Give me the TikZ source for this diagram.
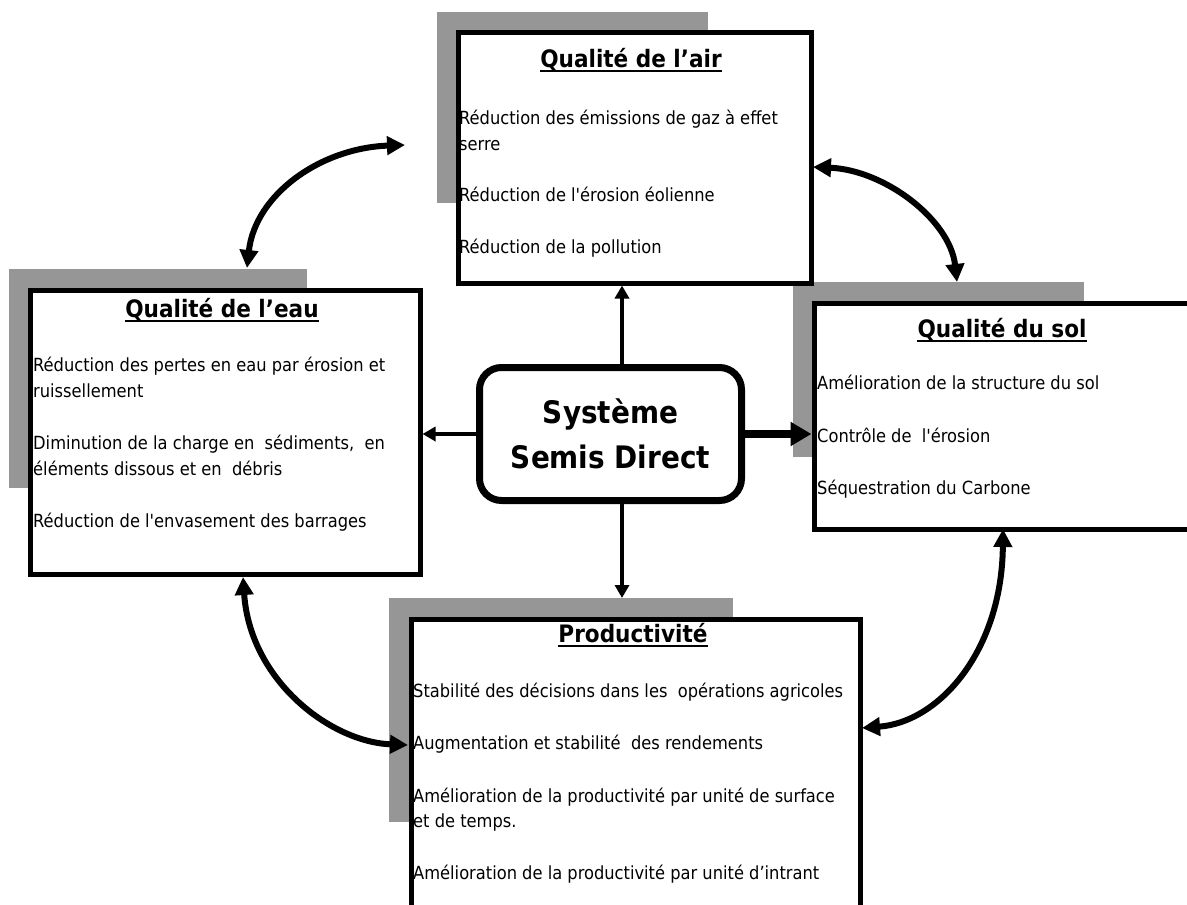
\documentclass[tikz,border=0pt]{standalone}
\usepackage{fontspec}
\setmainfont{DejaVu Sans Condensed}
\usetikzlibrary{arrows.meta}
\definecolor{shade}{RGB}{150,150,150}
\newcommand{\q}{\textquotesingle}
\begin{document}
\begin{tikzpicture}[x=1pt,y=-1pt,
  shadowbox/.style={fill=shade, draw=none, inner sep=0pt, outer sep=0pt, anchor=north west},
  mainbox/.style={draw=black, line width=5pt, fill=white, inner sep=0pt, anchor=north west},
  body/.style={anchor=base west, inner sep=0pt, font=\fontsize{18.1}{27}\selectfont},
  ttl/.style={anchor=base, inner sep=0pt, font=\fontsize{24}{28}\selectfont\bfseries},
  uline/.style={line width=2pt},
  thinarrow/.style={line width=4pt, -{Triangle[length=13pt,width=14pt]}},
  boldarrow/.style={line width=8pt, -{Triangle[length=21pt,width=23pt]}},
  curv/.style={line width=6pt, {Triangle[length=18pt,width=18pt]}-{Triangle[length=18pt,width=18pt]}},
  centre/.style={draw=black, line width=7pt, rounded corners=22pt, fill=white, align=center,
    font=\fontsize{31}{45}\selectfont\bfseries, minimum width=262pt, minimum height=133pt}
]
\useasboundingbox (0,0) rectangle (1187,905);

% shadows
\node[shadowbox, minimum width=271pt, minimum height=191pt] (airsh) at (437,12) {};
\node[shadowbox, minimum width=298pt, minimum height=219pt] (watersh) at (9,269) {};
\node[shadowbox, minimum width=291pt, minimum height=175pt] (solsh) at (793,282) {};
\node[shadowbox, minimum width=344pt, minimum height=224pt] (prodsh) at (389,598) {};

% boxes
\node[mainbox, minimum width=353pt, minimum height=251pt] (air) at (455.5,29.5) {};
\node[mainbox, minimum width=390pt, minimum height=284pt] (water) at (27.5,287.5) {};
\node[mainbox, minimum width=381pt, minimum height=226pt] (sol) at (811.5,300.5) {};
\node[mainbox, minimum width=449pt, minimum height=340pt] (prod) at (408.5,616.5) {};

% centre
\node[centre] (ctr) at (610.5,434) {Système\\Semis Direct};

% titles
\node[ttl] (tair) at (631,67) {Qualité de l’air};
\node[ttl] (twater) at (222,317) {Qualité de l’eau};
\node[ttl] (tsol) at (1002,337) {Qualité du sol};
\node[ttl] (tprod) at (633,642) {Productivité};
\foreach \t in {tair,twater,tsol,tprod}
  \draw[uline] ([yshift=-3.5pt]\t.base west) -- ([yshift=-3.5pt]\t.base east);

% air text
\node[body] (a1) at (459,124) {Réduction des émissions de gaz à effet};
\node[body] (a2) at (459,150) {serre};
\node[body] (a3) at (459,201) {Réduction de l\q érosion éolienne};
\node[body] (a4) at (459,253) {Réduction de la pollution};

% water text
\node[body] (w1) at (33,371) {Réduction des pertes en eau par érosion et};
\node[body] (w2) at (33,397) {ruissellement};
\node[body] (w3) at (33,449) {Diminution de la charge en \ sédiments, \ en};
\node[body] (w4) at (33,475) {éléments dissous et en \ débris};
\node[body] (w5) at (33,527) {Réduction de l\q envasement des barrages};

% sol text
\node[body] (s1) at (817,389) {Amélioration de la structure du sol};
\node[body] (s2) at (817,442) {Contrôle de \ l\q érosion};
\node[body] (s3) at (817,494) {Séquestration du Carbone};

% prod text
\node[body] (p1) at (413,697) {Stabilité des décisions dans les \ opérations agricoles};
\node[body] (p2) at (413,749) {Augmentation et stabilité \ des rendements};
\node[body] (p3) at (413,802) {Amélioration de la productivité par unité de surface};
\node[body] (p4) at (413,827) {et de temps.};
\node[body] (p5) at (413,879) {Amélioration de la productivité par unité d’intrant};

% straight arrows
\draw[thinarrow] ([xshift=11.5pt]ctr.north) -- ([xshift=11.5pt]ctr.north |- air.south);
\draw[thinarrow] ([xshift=11.5pt]ctr.south) -- ([xshift=11.5pt]ctr.south |- prodsh.north);
\draw[thinarrow] (ctr.west) -- (ctr.west -| water.east);
\draw[boldarrow] (ctr.east) -- (ctr.east -| sol.west);

% curved arrows
\coordinate (c1a) at (247,268);
\coordinate (c1b) at (405,145);
\coordinate (c2a) at (813,167);
\coordinate (c2b) at (957,282);
\coordinate (c3a) at (243,577);
\coordinate (c3b) at (408,745);
\coordinate (c4a) at (1003,529);
\coordinate (c4b) at (862,728);
\draw[curv] (c1a) .. controls (255,195) and (320,148) .. (c1b);
\draw[curv] (c2a) .. controls (885,170) and (950,220) .. (c2b);
\draw[curv] (c3a) .. controls (250,680) and (330,742) .. (c3b);
\draw[curv] (c4a) .. controls (1002,650) and (940,722) .. (c4b);
\end{tikzpicture}
\end{document}
